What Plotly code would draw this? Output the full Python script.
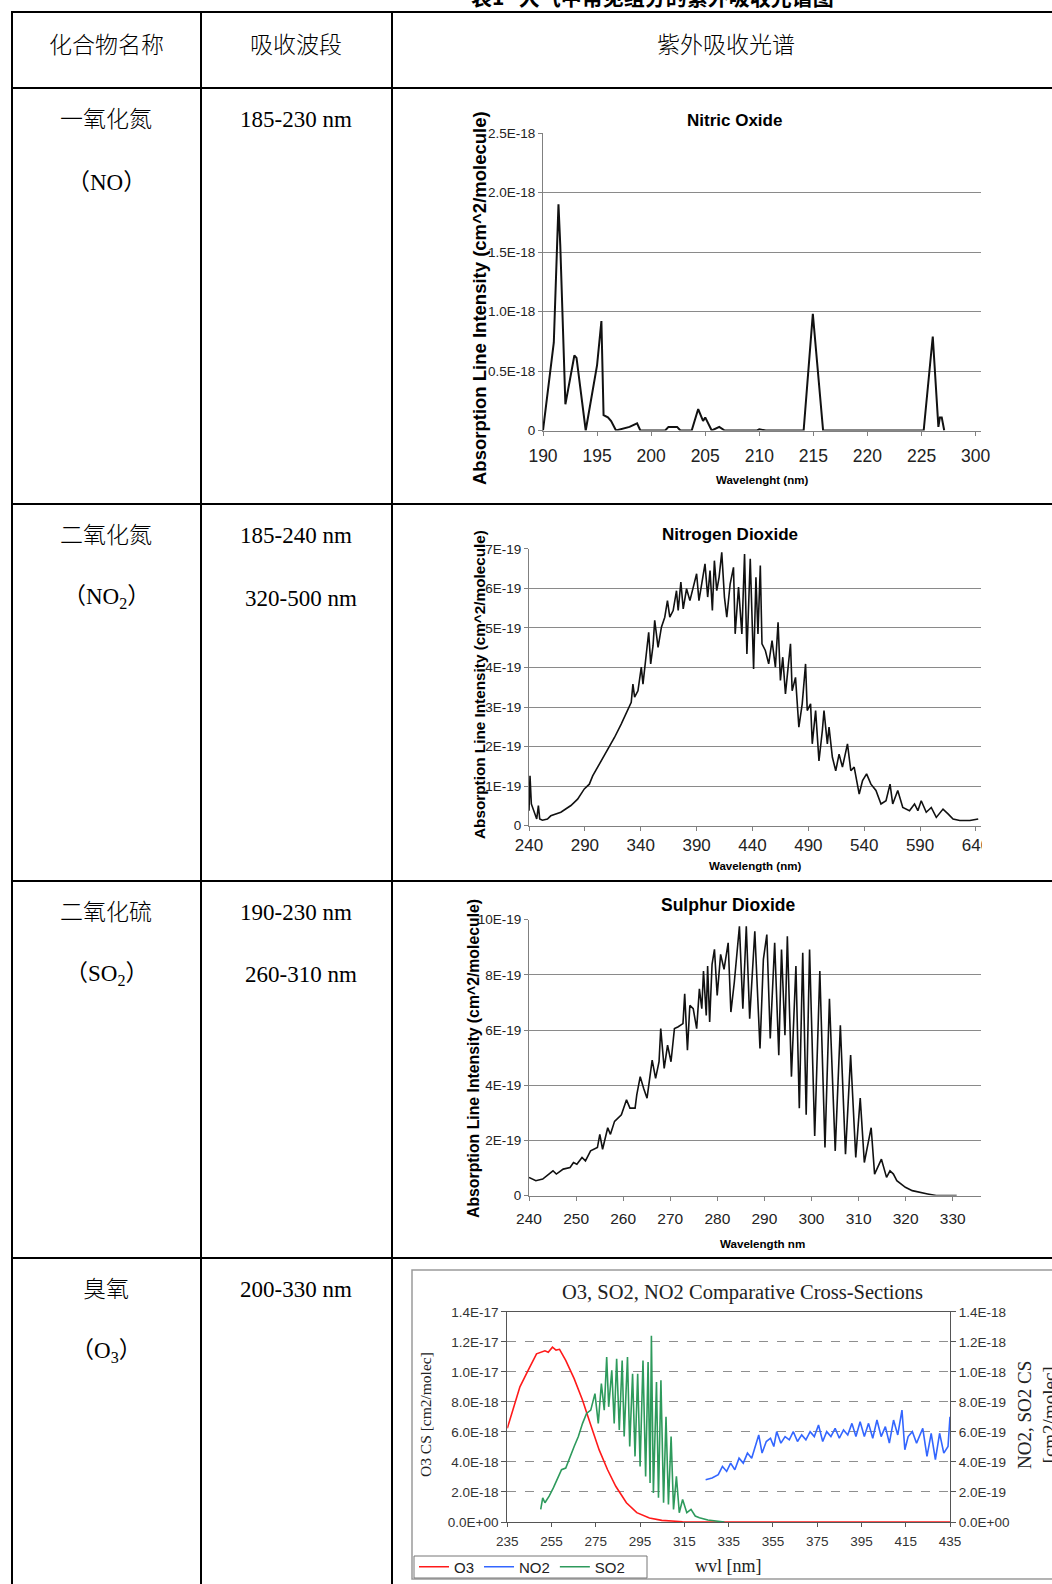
import plotly.graph_objects as go

W, H = 1052, 1584

# ---------------- data ----------------
CAPTION = "表1   大气中常见组分的紫外吸收光谱图"
HEADERS = ["化合物名称", "吸收波段", "紫外吸收光谱"]
COMPOUNDS = ["一氧化氮", "二氧化氮", "二氧化硫", "臭氧"]
FORMULAS = ["（NO）", "（NO<sub>2</sub>）", "（SO<sub>2</sub>）", "（O<sub>3</sub>）"]
BANDS = [["185-230 nm"], ["185-240 nm", "320-500 nm"], ["190-230 nm", "260-310 nm"], ["200-330 nm"]]

# Nitric Oxide (intensity in 1E-18 cm^2/molecule)
NO_WL = [190.0, 191.0, 191.43, 191.6, 192.07, 192.5, 192.9, 193.1, 193.95, 195.0, 195.4, 195.6,
         196.0, 196.3, 196.75, 198.0, 198.7, 199.0, 201.3, 201.6, 202.4, 202.7, 203.75, 204.35,
         204.8, 205.0, 205.6, 206.3, 206.8, 209.8, 210.0, 210.6, 214.1, 214.95, 215.9, 225.2,
         226.04, 226.56, 226.7, 226.87, 227.1]
NO_I = [0.0, 0.74, 1.90, 1.55, 0.22, 0.45, 0.63, 0.61, 0.0, 0.55, 0.92, 0.13,
        0.11, 0.08, 0.0, 0.03, 0.06, 0.0, 0.0, 0.03, 0.03, 0.0, 0.0, 0.18,
        0.08, 0.11, 0.0, 0.03, 0.0, 0.0, 0.01, 0.0, 0.0, 0.98, 0.0, 0.0,
        0.79, 0.03, 0.11, 0.11, 0.0]
NO_XTICKS = [190, 195, 200, 205, 210, 215, 220, 225, 230]
NO_XTICKTEXT = ["190", "195", "200", "205", "210", "215", "220", "225", "300"]
NO_YTICKS = [0, 0.5, 1.0, 1.5, 2.0, 2.5]
NO_YTICKTEXT = ["0", "0.5E-18", "1.0E-18", "1.5E-18", "2.0E-18", "2.5E-18"]

# Nitrogen Dioxide (intensity in 1E-19)
NO2_WL = [240.0, 240.9, 242.1, 244.5, 246.9, 248.4, 249.6, 252.0, 256.5, 259.5,
          268.5, 277.5, 283.5, 289.5, 294.0, 297.0, 301.5, 304.5, 310.5, 316.5,
          322.5, 328.5, 331.5, 333.0, 334.5, 337.5, 340.5, 342.0, 345.0, 347.1,
          348.9, 351.0, 352.5, 355.5, 358.5, 361.5, 363.9, 366.0, 369.0, 372.0,
          373.5, 375.9, 378.0, 381.0, 384.0, 387.0, 390.0, 392.1, 394.5, 397.5,
          399.9, 402.0, 404.1, 405.9, 408.0, 410.1, 412.5, 414.9, 417.0, 420.0,
          423.0, 424.5, 427.5, 430.5, 432.9, 435.0, 438.0, 441.0, 443.1, 444.9,
          447.0, 448.5, 451.5, 454.5, 457.5, 460.5, 462.9, 465.0, 467.1, 469.5,
          471.9, 474.0, 475.5, 478.5, 481.5, 484.5, 487.5, 489.0, 492.0, 493.5,
          496.5, 499.5, 502.5, 504.0, 507.0, 508.5, 511.5, 514.5, 517.5, 520.5,
          525.0, 528.0, 531.0, 535.5, 538.5, 542.1, 546.0, 550.5, 555.0, 559.5,
          563.1, 565.5, 570.0, 574.5, 580.5, 585.0, 588.0, 591.0, 595.5, 600.0,
          604.5, 610.5, 615.0, 619.5, 625.5, 634.5, 642.0]
NO2_I = [0.38, 1.26, 0.55, 0.38, 0.17, 0.51, 0.17, 0.14, 0.17, 0.25,
         0.34, 0.51, 0.67, 0.93, 1.05, 1.26, 1.48, 1.64, 1.94, 2.23,
         2.57, 2.95, 3.12, 3.58, 3.25, 3.41, 4.01, 3.58, 4.26, 4.89,
         4.09, 4.55, 5.19, 4.51, 5.02, 5.27, 5.69, 5.27, 5.44, 5.94,
         5.44, 6.16, 5.48, 5.99, 5.69, 6.03, 6.37, 5.69, 6.07, 6.62,
         5.78, 6.45, 5.44, 6.70, 5.94, 6.28, 6.91, 5.78, 5.27, 6.11,
         6.53, 4.85, 6.03, 4.85, 6.87, 4.34, 6.75, 3.96, 6.28, 4.85,
         6.58, 4.60, 4.43, 4.09, 4.68, 4.01, 5.14, 3.67, 4.26, 3.33,
         4.01, 4.60, 3.41, 3.75, 2.49, 3.08, 4.09, 2.91, 3.08, 2.07,
         2.91, 1.64, 2.40, 2.91, 2.07, 2.49, 1.73, 1.39, 1.81, 1.48,
         2.07, 1.39, 1.48, 0.80, 1.14, 1.31, 1.05, 0.89, 0.55, 0.63,
         1.05, 0.55, 0.89, 0.46, 0.38, 0.55, 0.38, 0.63, 0.34, 0.46,
         0.21, 0.42, 0.30, 0.17, 0.13, 0.13, 0.17]
NO2_XTICKS = [240, 290, 340, 390, 440, 490, 540, 590, 640]
NO2_YTICKS = [0, 1, 2, 3, 4, 5, 6, 7]
NO2_YTICKTEXT = ["0", "1E-19", "2E-19", "3E-19", "4E-19", "5E-19", "6E-19", "7E-19"]

# Sulphur Dioxide (intensity in 1E-19)
SO2_WL = [240.0, 241.45, 242.91, 244.36, 245.09, 245.81, 247.27, 248.72, 249.45, 250.17,
          251.26, 251.99, 253.08, 254.53, 255.04, 255.63, 256.72, 257.30, 258.17, 259.62,
          260.71, 261.44, 262.53, 262.89, 263.62, 264.34, 265.07, 266.16, 266.89, 267.62,
          267.98, 268.71, 269.43, 270.16, 270.89, 271.61, 272.70, 273.07, 273.65, 274.16,
          274.88, 275.61, 276.19, 276.70, 277.06, 277.65, 277.94, 278.37, 278.88, 279.39,
          279.97, 280.70, 281.42, 282.30, 282.88, 283.60, 284.69, 285.42, 286.15, 286.87,
          287.96, 289.06, 289.78, 290.51, 291.24, 292.18, 293.05, 293.63, 294.36, 294.87,
          295.74, 296.69, 297.41, 298.14, 298.87, 299.59, 300.68, 301.77, 302.86, 303.81,
          305.04, 306.13, 307.22, 308.31, 309.40, 310.35, 311.22, 312.67, 313.40, 314.85,
          315.94, 316.67, 317.40, 318.12, 319.94, 321.40, 322.85, 324.67, 326.48, 330.84]
SO2_I = [0.66, 0.54, 0.60, 0.78, 0.90, 0.78, 0.96, 1.02, 1.20, 1.14,
         1.38, 1.26, 1.62, 1.74, 2.22, 1.68, 2.46, 2.22, 2.69, 2.93,
         3.47, 3.17, 3.17, 3.65, 4.31, 3.89, 3.53, 4.91, 4.25, 4.85,
         6.05, 4.61, 5.45, 4.85, 6.05, 6.11, 6.23, 7.31, 5.27, 6.89,
         6.77, 6.05, 7.49, 6.77, 8.14, 6.53, 8.32, 6.29, 8.38, 8.92,
         7.25, 8.74, 8.20, 9.16, 6.65, 7.72, 9.76, 6.77, 9.76, 6.41,
         9.58, 5.33, 8.56, 9.46, 5.69, 9.16, 5.09, 8.92, 5.81, 9.40,
         4.31, 8.32, 3.17, 8.80, 2.93, 8.92, 2.16, 8.14, 1.74, 7.13,
         1.62, 6.17, 1.50, 5.09, 1.38, 3.53, 1.20, 2.46, 0.78, 1.32,
         0.66, 0.90, 0.78, 0.54, 0.30, 0.18, 0.12, 0.06, 0.0, 0.0]
SO2_XTICKS = [240, 250, 260, 270, 280, 290, 300, 310, 320, 330]
SO2_YTICKS = [0, 2, 4, 6, 8, 10]
SO2_YTICKTEXT = ["0", "2E-19", "4E-19", "6E-19", "8E-19", "10E-19"]

# Comparative chart: O3 in 1E-18 (left axis), NO2/SO2 in 1E-19 (right axis)
O3_WL = [235.0, 240.7, 244.4, 248.2, 252.0, 253.5, 255.4, 257.0, 258.6, 261.4, 265.2, 269.0,
         272.7, 276.5, 280.3, 284.0, 288.8, 293.5, 299.2, 304.8, 314.2, 329.3, 435.0]
O3_CS = [6.24, 9.0, 10.1, 11.2, 11.4, 11.3, 11.64, 11.45, 11.5, 10.76, 9.55, 8.11,
         6.46, 4.8, 3.48, 2.38, 1.28, 0.62, 0.26, 0.11, 0.02, 0.0, 0.0]
CMP_NO2_WL = [324.6, 327.5, 330.3, 332.2, 334.1, 335.9, 337.8, 339.7, 341.6, 343.5,
              345.4, 347.3, 348.6, 350.1, 352.0, 353.9, 355.4, 356.7, 358.6, 360.5,
              362.4, 364.2, 366.1, 368.0, 369.9, 371.8, 373.7, 375.6, 377.5, 379.3,
              381.2, 383.1, 385.0, 386.9, 388.8, 390.7, 392.5, 394.4, 396.3, 398.2,
              400.1, 402.0, 403.9, 405.8, 407.6, 409.5, 411.4, 413.3, 414.6, 416.1,
              418.0, 419.9, 422.7, 424.6, 426.5, 428.4, 430.3, 432.2, 434.1, 435.0]
CMP_NO2_CS = [2.82, 2.93, 3.15, 3.70, 3.37, 3.92, 3.48, 4.25, 3.92, 4.59,
              4.25, 5.14, 5.80, 4.59, 5.36, 5.58, 5.03, 6.02, 5.25, 5.69,
              5.47, 6.02, 5.36, 5.80, 5.47, 6.02, 5.69, 6.46, 5.36, 6.02,
              5.69, 6.24, 5.58, 6.13, 5.80, 6.57, 5.69, 6.68, 5.69, 6.57,
              5.58, 6.79, 5.69, 6.35, 5.25, 6.79, 5.80, 7.45, 4.81, 5.69,
              6.02, 5.25, 6.24, 4.37, 5.91, 4.15, 5.91, 4.59, 5.03, 7.01]
CMP_SO2_WL = [250.1, 251.0, 252.0, 253.9, 255.8, 257.6, 259.5, 261.4, 263.3, 265.2,
              267.1, 269.0, 270.8, 272.7, 274.6, 276.1, 277.5, 278.8, 279.9, 280.8,
              282.2, 283.3, 284.4, 285.6, 286.9, 287.8, 289.3, 290.3, 291.6, 292.7,
              293.9, 295.0, 296.3, 297.5, 298.6, 299.5, 300.1, 301.0, 302.4, 303.3,
              304.4, 305.6, 306.7, 307.8, 309.0, 310.1, 311.4, 312.7, 314.2, 316.1,
              318.0, 319.9, 321.8, 325.6, 329.3, 333.1]
CMP_SO2_CS = [0.84, 1.61, 1.28, 1.72, 2.27, 2.82, 3.48, 3.59, 4.37, 5.03,
              5.69, 6.57, 7.23, 7.45, 8.55, 6.57, 9.22, 7.45, 10.98, 7.67,
              10.10, 6.57, 10.87, 6.13, 10.76, 5.69, 10.98, 5.03, 9.88, 4.37,
              9.88, 3.70, 10.76, 3.04, 10.65, 2.60, 12.41, 1.94, 9.33, 1.61,
              9.44, 1.28, 7.01, 1.17, 5.69, 0.84, 3.04, 0.62, 1.50, 0.62,
              0.84, 0.40, 0.29, 0.13, 0.07, 0.0]
CMP_XTICKS = [235, 255, 275, 295, 315, 335, 355, 375, 395, 415, 435]
CMP_YTICKS = [0, 2, 4, 6, 8, 10, 12, 14]
CMP_LEFT_TEXT = ["0.0E+00", "2.0E-18", "4.0E-18", "6.0E-18", "8.0E-18", "1.0E-17", "1.2E-17", "1.4E-17"]
CMP_RIGHT_TEXT = ["0.0E+00", "2.0E-19", "4.0E-19", "6.0E-19", "8.0E-19", "1.0E-18", "1.2E-18", "1.4E-18"]

# ---------------- helpers ----------------
def fx(px):
    return px / W

def fy(py):
    return 1 - py / H

CELL = "Liberation Serif, Noto Sans CJK SC, serif"
SANS = "Liberation Sans, Arial, sans-serif"
SERIF = "Liberation Serif, Times New Roman, serif"


def ann(text, x, y, size, family, bold=False, angle=0, color="black", weight=None):
    return dict(text=text, x=fx(x), y=fy(y), xref="paper", yref="paper", showarrow=False,
                font=dict(size=size, family=family, color=color,
                          weight=(weight if weight else ("bold" if bold else "normal"))),
                textangle=angle, xanchor="center", yanchor="middle")


fig = go.Figure()

# ---------------- traces ----------------
fig.add_trace(go.Scatter(x=NO_WL, y=NO_I, mode="lines", line=dict(color="#111", width=2),
                         xaxis="x", yaxis="y", showlegend=False))
fig.add_trace(go.Scatter(x=NO2_WL, y=NO2_I, mode="lines", line=dict(color="#111", width=1.6),
                         xaxis="x2", yaxis="y2", showlegend=False))
fig.add_trace(go.Scatter(x=SO2_WL, y=SO2_I, mode="lines", line=dict(color="#111", width=1.6),
                         xaxis="x3", yaxis="y3", showlegend=False))
fig.add_trace(go.Scatter(x=O3_WL, y=O3_CS, mode="lines", name="O3", line=dict(color="#ff1a1a", width=1.6),
                         xaxis="x4", yaxis="y4"))
fig.add_trace(go.Scatter(x=CMP_NO2_WL, y=CMP_NO2_CS, mode="lines", name="NO2",
                         line=dict(color="#3366ff", width=1.6), xaxis="x4", yaxis="y5"))
fig.add_trace(go.Scatter(x=CMP_SO2_WL, y=CMP_SO2_CS, mode="lines", name="SO2",
                         line=dict(color="#2e9a5c", width=1.6), xaxis="x4", yaxis="y5"))

# ---------------- axes ----------------
def xax(domain, rng, tickvals, ticktext, size, anchor, standoff=0):
    return dict(domain=domain, range=rng, tickvals=tickvals, ticktext=ticktext, anchor=anchor,
                automargin=False, showgrid=False, zeroline=False, showline=True,
                linecolor="#808080", linewidth=1, ticks="outside", ticklen=4, tickcolor="#808080",
                ticklabelstandoff=standoff,
                tickfont=dict(family=SANS, size=size, color="#222"))


def yax(domain, rng, tickvals, ticktext, size, anchor):
    return dict(domain=domain, range=rng, tickvals=tickvals, ticktext=ticktext, anchor=anchor,
                automargin=False, showgrid=True, gridcolor="#8a8a8a", gridwidth=1, zeroline=False,
                showline=True, linecolor="#808080", linewidth=1,
                ticks="outside", ticklen=4, tickcolor="#808080",
                tickfont=dict(family=SANS, size=size, color="#222"))


CMP_TICKFONT = dict(family=SANS, size=13.5, color="#333")
layout = dict(
    width=W, height=H, autosize=False, margin=dict(l=0, r=0, t=0, b=0, pad=0),
    paper_bgcolor="white", plot_bgcolor="white",
    xaxis=xax([fx(543), fx(981)], [190, 230.5], NO_XTICKS, NO_XTICKTEXT, 17.5, "y", 5),
    yaxis=yax([fy(430.5), fy(133)], [0, 2.5], NO_YTICKS, NO_YTICKTEXT, 13.5, "x"),
    xaxis2=xax([fx(529), fx(981)], [240, 644.5], NO2_XTICKS, [str(v) for v in NO2_XTICKS], 17, "y2", 0),
    yaxis2=yax([fy(825.7), fy(548.8)], [0, 7], NO2_YTICKS, NO2_YTICKTEXT, 13.5, "x2"),
    xaxis3=xax([fx(529), fx(981)], [240, 336], SO2_XTICKS, [str(v) for v in SO2_XTICKS], 15.5, "y3", 5),
    yaxis3=yax([fy(1195.6), fy(919.6)], [0, 10], SO2_YTICKS, SO2_YTICKTEXT, 13.5, "x3"),
    xaxis4=dict(domain=[fx(507.3), fx(950)], range=[235, 435], tickvals=CMP_XTICKS,
                ticktext=[str(v) for v in CMP_XTICKS], anchor="y4", automargin=False,
                showgrid=False, zeroline=False, showline=True, mirror=True, linecolor="#555",
                linewidth=1.2, ticks="outside", ticklen=4, tickcolor="#555",
                ticklabelstandoff=3, tickfont=CMP_TICKFONT),
    yaxis4=dict(domain=[fy(1522), fy(1311.8)], range=[0, 14], tickvals=CMP_YTICKS,
                ticktext=CMP_LEFT_TEXT, anchor="x4", automargin=False, showgrid=True,
                gridcolor="#8f8f8f", griddash="dash", gridwidth=1, zeroline=False, showline=True,
                linecolor="#555", linewidth=1.2, ticks="outside", ticklen=5, tickcolor="#555",
                tickfont=CMP_TICKFONT),
    yaxis5=dict(range=[0, 14], tickvals=CMP_YTICKS, ticktext=CMP_RIGHT_TEXT, anchor="x4",
                overlaying="y4", side="right", automargin=False, showgrid=False, zeroline=False,
                showline=True, linecolor="#555", linewidth=1.2, ticks="outside", ticklen=5,
                tickcolor="#555", tickfont=CMP_TICKFONT),
    legend=dict(orientation="h", x=fx(414), y=fy(1567), xanchor="left", yanchor="middle",
                borderwidth=0, bgcolor="rgba(0,0,0,0)",
                font=dict(family=SANS, size=15, color="#222"), itemwidth=30,
                tracegroupgap=0),
)
fig.update_layout(**layout)

# ---------------- table lines ----------------
LINE = dict(color="black", width=2)
shapes = []
for yy in [12, 88, 504, 881, 1258]:
    shapes.append(dict(type="line", xref="paper", yref="paper", x0=fx(11), x1=fx(1060),
                       y0=fy(yy), y1=fy(yy), line=LINE))
for xx in [12, 201, 392]:
    shapes.append(dict(type="line", xref="paper", yref="paper", x0=fx(xx), x1=fx(xx),
                       y0=fy(11), y1=fy(1600), line=LINE))
# box around comparative chart
shapes.append(dict(type="rect", xref="paper", yref="paper", x0=fx(412), x1=fx(1070),
                   y0=fy(1579), y1=fy(1270), line=dict(color="#9a9a9a", width=1.5), layer="below"))
# legend frame
shapes.append(dict(type="rect", xref="paper", yref="paper", x0=fx(414), x1=fx(647),
                   y0=fy(1578), y1=fy(1556), line=dict(color="#777", width=1), layer="below"))
# clip the right half of the last NO2 tick label, as in the cropped source image
shapes.append(dict(type="rect", xref="paper", yref="paper", x0=fx(982), x1=fx(1010),
                   y0=fy(852), y1=fy(828), line=dict(width=0), fillcolor="white", layer="above"))
fig.update_layout(shapes=shapes)

# ---------------- text ----------------
anns = []
anns.append(ann(CAPTION, 652, -4, 21, "Noto Sans CJK SC, sans-serif", bold=True))
for txt, x in zip(HEADERS, [106, 296, 726]):
    anns.append(ann(txt, x, 45, 23, CELL, weight=300))
row_tops = [88, 504, 881, 1258]
for i, top in enumerate(row_tops):
    anns.append(ann(COMPOUNDS[i], 106, top + 31, 23, CELL, weight=300))
    anns.append(ann(FORMULAS[i], 106, top + 94, 23, CELL))
    for j, b in enumerate(BANDS[i]):
        anns.append(ann(b, 296 if j == 0 else 301, top + 31 + 63 * j, 23, CELL))

# chart titles & axis titles
anns.append(ann("Nitric Oxide", 734, 120, 17, SANS, bold=True))
anns.append(ann("Absorption Line Intensity (cm^2/molecule)", 479, 298, 18.5, SANS, bold=True, angle=-90))
anns.append(ann("Wavelenght (nm)", 762, 480, 11.5, SANS, bold=True))

anns.append(ann("Nitrogen Dioxide", 730, 534, 17, SANS, bold=True))
anns.append(ann("Absorption Line Intensity (cm^2/molecule)", 479, 685, 15.3, SANS, bold=True, angle=-90))
anns.append(ann("Wavelength (nm)", 755, 866, 11.5, SANS, bold=True))

anns.append(ann("Sulphur Dioxide", 728, 905, 17.5, SANS, bold=True))
anns.append(ann("Absorption Line Intensity (cm^2/molecule)", 473, 1059, 15.8, SANS, bold=True, angle=-90))
anns.append(ann("Wavelength nm", 762, 1243, 11.6, SANS, bold=True))

anns.append(ann("O3, SO2, NO2 Comparative Cross-Sections", 742, 1292, 20.5, SERIF, color="#222"))
anns.append(ann("O3 CS [cm2/molec]", 425, 1415, 15.5, SERIF, angle=-90, color="#222"))
anns.append(ann("NO2, SO2 CS<br>[cm2/molec]", 1037, 1415, 19, SERIF, angle=-90, color="#222"))
anns.append(ann("wvl [nm]", 728, 1566, 18, SERIF, color="#222"))

fig.update_layout(annotations=anns)

# the page's default 8px body margin would shift the figure inside the 1052x1584 window
fig.write_html("out.html", config={"displayModeBar": False},
               post_script="document.body.style.margin='0px';document.body.style.overflow='hidden';")
